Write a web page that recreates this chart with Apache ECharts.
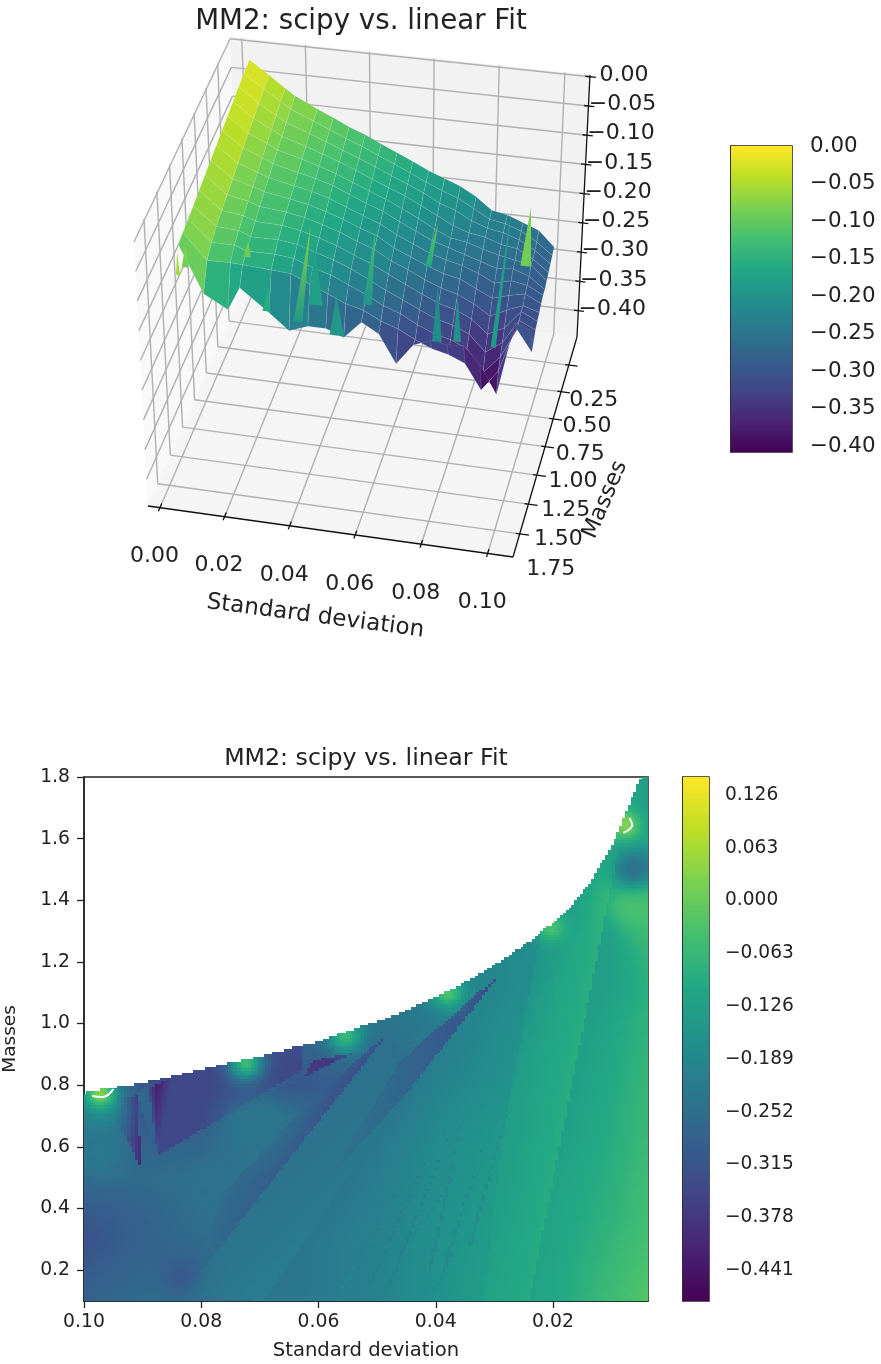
<!DOCTYPE html>
<html><head><meta charset="utf-8"><style>html,body{margin:0;background:#fff}#c{width:881px;height:1364px}</style>
<script src="https://cdn.jsdelivr.net/npm/echarts@6/dist/echarts.min.js"></script></head><body><div id="c"></div>
<script>
const titleText = 'MM2: scipy vs. linear Fit', xName = 'Standard deviation', yName = 'Masses';
// ---- 3D surface readings ----
const surfSd = [.004,.01,.015,.018,.025,.03,.035,.04,.045,.05,.055,.06,.065,.07,.075,.08,.085,.09,.095,.10];
const surfEdgeMass = [1.62,1.56,1.42,1.37,1.25,1.18,1.12,1.08,1.04,1.0,.97,.94,.91,.89,.87,.85,.83,.80,.79,.775];
const surfFrac = [0,.08,.16,.24,.32,.40,.48,.56,.64,.72,.80,.87,.94,1];
const surfZ = [
[-.012,-.035,-.055,-.066,-.085,-.097,-.110,-.120,-.133,-.145,-.157,-.170,-.180,-.190,-.205,-.225,-.230,-.240,-.250,-.275],
[-.015,-.04,-.06,-.072,-.09,-.103,-.116,-.127,-.14,-.152,-.165,-.178,-.19,-.20,-.215,-.23,-.235,-.245,-.26,-.28],
[-.018,-.045,-.066,-.078,-.096,-.109,-.122,-.134,-.147,-.16,-.172,-.185,-.20,-.21,-.225,-.235,-.24,-.25,-.265,-.285],
[-.022,-.05,-.072,-.084,-.102,-.115,-.128,-.141,-.155,-.168,-.18,-.195,-.21,-.225,-.235,-.24,-.25,-.255,-.27,-.29],
[-.026,-.055,-.078,-.09,-.108,-.121,-.134,-.148,-.162,-.175,-.19,-.205,-.222,-.235,-.24,-.25,-.258,-.265,-.27,-.295],
[-.03,-.06,-.084,-.096,-.115,-.127,-.14,-.155,-.17,-.183,-.2,-.215,-.23,-.24,-.25,-.26,-.27,-.27,-.28,-.30],
[-.034,-.066,-.09,-.102,-.122,-.134,-.148,-.163,-.178,-.192,-.21,-.225,-.24,-.25,-.258,-.27,-.285,-.28,-.285,-.30],
[-.038,-.072,-.096,-.108,-.128,-.141,-.156,-.17,-.186,-.20,-.22,-.235,-.25,-.262,-.27,-.285,-.30,-.295,-.29,-.305],
[-.042,-.078,-.102,-.115,-.134,-.148,-.164,-.178,-.195,-.21,-.23,-.245,-.262,-.275,-.285,-.30,-.32,-.31,-.30,-.31],
[-.046,-.084,-.108,-.122,-.14,-.155,-.172,-.187,-.205,-.222,-.24,-.258,-.275,-.29,-.30,-.315,-.34,-.33,-.30,-.315],
[-.05,-.09,-.114,-.13,-.148,-.163,-.182,-.197,-.215,-.235,-.255,-.272,-.29,-.305,-.315,-.33,-.36,-.345,-.305,-.32],
[-.053,-.098,-.122,-.138,-.158,-.173,-.195,-.21,-.23,-.25,-.27,-.285,-.305,-.32,-.33,-.345,-.385,-.36,-.31,-.33],
[-.056,-.11,-.135,-.145,-.17,-.185,-.21,-.23,-.25,-.265,-.285,-.30,-.32,-.335,-.345,-.36,-.405,-.375,-.30,-.34],
[-.06,-.15,-.20,-.17,-.23,-.27,-.27,-.278,-.297,-.275,-.297,-.35,-.32,-.313,-.32,-.322,-.355,-.407,-.284,-.297]];
// sharp facets that stick up along the front edge
const spikeSd     = [.0045,.0065,.02,.025,.036,.037,.043,.054,.072,.072,.078,.093,.0985];
const spikeBaseSd = [.0045,.0060,.0195,.024,.0315,.037,.043,.0515,.069,.072,.078,.0885,.0975];
const spikeMass   = [1.68,1.64,1.30,1.24,1.09,1.08,1.05,.97,.88,.88,.86,.79,.77];
const spikeBaseZ  = [-.10,-.093,-.13,-.23,-.27,-.24,-.293,-.25,-.19,-.315,-.315,-.33,-.19];
const spikeTopZ   = [-.06,-.054,-.103,-.19,-.105,-.14,-.225,-.125,-.113,-.22,-.237,-.09,-.09];
const spikeHalf   = [.0006,.001,.0012,.0012,.0014,.0022,.0022,.0014,.001,.0015,.0012,.0008,.0016];
const spikeShadeBase = [-.06,-.09,-.10,-.16,-.19,-.18,-.19,-.20,-.17,-.21,-.2,-.19,-.09];
const spikeShadeTop  = [-.05,-.07,-.08,-.15,-.07,-.18,-.19,-.12,-.10,-.21,-.2,-.17,-.08];
const xTicks3d = [0,.02,.04,.06,.08,.10];
const massTicks3d = [.25,.5,.75,1,1.25,1.5,1.75];
const zTicks3d = [0,-.05,-.10,-.15,-.20,-.25,-.30,-.35,-.40];
const cbTopTicks = [0,-.05,-.10,-.15,-.20,-.25,-.30,-.35,-.40];
const cbTopRange = [-.408,0];
// ---- 2D map readings ----
const gridSd = [.10,.09,.08,.07,.06,.05,.04,.03,.02,.01,.0038];
const gridMass = [.1,.2,.3,.4,.5,.6,.7,.8,.9,1,1.1,1.2,1.3,1.4,1.5,1.6,1.7,1.8];
const gridVal = [
[-.28,-.26,-.24,-.23,-.225,-.20,-.165,-.125,-.11,-.05,-.02],
[-.30,-.27,-.265,-.24,-.225,-.20,-.165,-.13,-.11,-.06,-.03],
[-.32,-.28,-.26,-.245,-.225,-.205,-.165,-.135,-.115,-.07,-.04],
[-.30,-.28,-.25,-.24,-.235,-.21,-.17,-.14,-.115,-.08,-.045],
[-.27,-.26,-.245,-.24,-.25,-.215,-.175,-.145,-.12,-.085,-.05],
[-.25,-.28,-.27,-.23,-.25,-.225,-.18,-.15,-.13,-.09,-.055],
[-.27,-.33,-.30,-.22,-.27,-.24,-.19,-.155,-.135,-.095,-.06],
[-.27,-.34,-.33,-.32,-.30,-.26,-.20,-.17,-.14,-.10,-.065],
[-.27,-.34,-.33,-.30,-.28,-.27,-.215,-.175,-.145,-.105,-.07],
[-.27,-.34,-.33,-.30,-.25,-.24,-.22,-.18,-.15,-.11,-.075],
[-.27,-.34,-.33,-.30,-.25,-.24,-.20,-.19,-.16,-.12,-.085],
[-.27,-.34,-.33,-.30,-.25,-.24,-.20,-.19,-.165,-.125,-.075],
[-.27,-.34,-.33,-.30,-.25,-.24,-.20,-.19,-.18,-.13,-.05],
[-.27,-.34,-.33,-.30,-.25,-.24,-.20,-.19,-.15,-.11,-.04],
[-.27,-.34,-.33,-.30,-.25,-.24,-.20,-.19,-.12,-.12,-.20],
[-.27,-.34,-.33,-.30,-.25,-.24,-.20,-.19,-.10,-.09,-.11],
[-.27,-.34,-.33,-.30,-.25,-.24,-.20,-.19,-.09,-.09,-.125],
[-.27,-.34,-.33,-.30,-.25,-.24,-.20,-.19,-.10,-.10,-.13]];
const edgeSd   = [.1000,.0904,.0850,.0700,.0602,.0500,.0444,.0358,.0278,.0242,.0176,.0137,.0097,.0068,.0049,.0038];
const edgeMass = [.775,.804,.827,.892,.940,1.005,1.044,1.122,1.213,1.262,1.362,1.453,1.580,1.716,1.797,1.80];
// mesh facets with hard edges, each row three vertices
const triSd = [
[.0831,.0481,.0461],[.0831,.0461,.0695],[.0481,.07,.0631],[.07,.0831,.0759],[.0759,.0631,.07],
[.029,.0461,.0461],[.0461,.0461,.058],
[.0242,.0089,.0282],[.0089,.0282,.0222],[.0242,.0282,.032],
[.0875,.0631,.085],[.085,.0631,.0631],[.0626,.0543,.0609],
[.0904,.0875,.0626],[.0875,.0626,.0631],
[.0896,.0879,.0875],[.0879,.085,.0875],[.0911,.0891,.0875],[.091,.0903,.0939],[.091,.0939,.0973],
[.0563,.0559,.037],[.0495,.0489,.0358],[.041,.0404,.0358],[.0415,.0409,.0341],[.0346,.034,.0268],[.0392,.0386,.0319],
[.0558,.0552,.0461],[.052,.0514,.041],[.0486,.048,.0375]];
const triMass = [
[.125,.973,.752],[.125,.752,.1],[.973,.444,.719],[.444,.125,.46],[.46,.719,.444],
[1.164,.882,.752],[.882,.752,.508],
[.1,1.573,.687],[1.573,.687,1.304],[.1,.687,.1],
[.573,.849,.827],[.827,.849,.931],[.827,.905,.882],
[.534,.573,.827],[.573,.835,.849],
[.801,.801,.573],[.801,.827,.573],[.768,.804,.573],[.768,.531,.671],[.768,.671,.752],
[.145,.145,.697],[.168,.168,.534],[.125,.125,.297],[.19,.19,.817],[.275,.275,.784],[.19,.19,.622],
[.14,.14,.49],[.14,.14,.59],[.14,.14,.655]];
const triVal = [
[-.235,-.25,-.23],[-.235,-.23,-.215],[-.34,-.29,-.27],[-.29,-.25,-.26],[-.26,-.27,-.29],
[-.34,-.27,-.27],[-.27,-.27,-.24],
[-.095,-.085,-.135],[-.085,-.135,-.165],[-.095,-.135,-.12],
[-.345,-.345,-.345],[-.345,-.345,-.33],[-.35,-.42,-.38],
[-.27,-.28,-.30],[-.28,-.30,-.30],
[-.30,-.44,-.33],[-.44,-.345,-.345],[-.29,-.29,-.29],[-.44,-.42,-.33],[-.44,-.33,-.27],
[-.19,-.19,-.19],[-.19,-.19,-.19],[-.175,-.175,-.175],[-.19,-.19,-.19],[-.175,-.175,-.175],[-.18,-.18,-.18],
[-.215,-.215,-.215],[-.21,-.21,-.21],[-.205,-.205,-.205]];
// soft spots
const spotSd   = [.0973,.0973,.0976,.0725,.0717,.0555,.0381,.0205,.0077,.0065,.0065,.0836];
const spotMass = [.735,.775,.58,.872,.677,.963,1.103,1.314,1.645,1.385,1.505,.184];
const spotVal  = [-.17,.03,-.225,-.05,-.235,-.06,-.03,-.035,.03,-.035,-.245,-.30];
const spotSize = [.075,.032,.06,.04,.07,.04,.035,.035,.03,.06,.042,.05];
const arcLeft  = [[.0986,.765],[.0969,.762],[.095,.788]];
const arcRight = [[.007,1.667],[.0065,1.645],[.008,1.619]];
const xTicks2d = [.10,.08,.06,.04,.02];
const yTicks2d = [.2,.4,.6,.8,1,1.2,1.4,1.6,1.8];
const cbBottomTicks = [.126,.063,0,-.063,-.126,-.189,-.252,-.315,-.378,-.441];
const cbBottomRange = [-.478,.1475];

const FONT = '"DejaVu Sans"', INK = '#222';
const viridis = ['#440154','#482475','#414487','#355f8d','#2a788e','#21918c','#22a884','#44bf70','#7ad151','#bddf26','#fde725'].map(h=>[1,3,5].map(i=>parseInt(h.substr(i,2),16)));
function cmap(t){t=Math.max(0,Math.min(1,t))*10;const i=Math.min(9,Math.floor(t)),f=t-i,a=viridis[i],b=viridis[i+1];
  return 'rgb('+[0,1,2].map(k=>Math.round(a[k]+(b[k]-a[k])*f)).join(',')+')';}
const topColor = z => cmap((z-cbTopRange[0])/(cbTopRange[1]-cbTopRange[0]));
const botColor = v => cmap((v-cbBottomRange[0])/(cbBottomRange[1]-cbBottomRange[0]));
const minus = s => s.replace('-','\u2212');

// ---- 3D projection ----
const SD_LIM=[-.0037,.1076], M_LIM=[-.02,1.94], Z_LIM=[-.445,.003];
const G3={left:100,top:100,width:100,height:100};
function homography(q){const [x0,y0]=q[0],[x1,y1]=q[1],[x2,y2]=q[2],[x3,y3]=q[3];
  const dx1=x1-x2,dx2=x3-x2,sx=x0-x1+x2-x3,dy1=y1-y2,dy2=y3-y2,sy=y0-y1+y2-y3,det=dx1*dy2-dx2*dy1;
  const g=(sx*dy2-dx2*sy)/det,h=(dx1*sy-sx*dy1)/det,a=x1-x0+g*x1,b=x3-x0+h*x3,d=y1-y0+g*y1,e=y3-y0+h*y3;
  return (u,v)=>{const w=g*u+h*v+1;return [(a*u+b*v+x0)/w,(d*u+e*v+y0)/w];};}
const floorH=homography([[241,294],[577,337],[513,557],[148,506]]);
const topH=homography([[230,37],[590,75],[522,286],[134,240]]);
function P(api,sd,m,z){const c=api.coord([sd,m]);const u=(c[0]-G3.left)/G3.width,v=(c[1]-G3.top)/G3.height;
  const w=(Z_LIM[1]-z)/(Z_LIM[1]-Z_LIM[0]);const a=topH(u,v),b=floorH(u,v);return [a[0]+(b[0]-a[0])*w,a[1]+(b[1]-a[1])*w];}
const [s0,s1]=SD_LIM,[m0,m1]=M_LIM,[z0,z1]=Z_LIM;
const panes=[{c:'#f9f9f9',p:[[s0,m0,z0],[s0,m1,z0],[s0,m1,z1],[s0,m0,z1]]},{c:'#f2f2f2',p:[[s0,m0,z0],[s1,m0,z0],[s1,m0,z1],[s0,m0,z1]]},{c:'#f5f5f5',p:[[s0,m0,z0],[s1,m0,z0],[s1,m1,z0],[s0,m1,z0]]}];
const gridLines=[];
xTicks3d.forEach(s=>{gridLines.push([[s,m0,z0],[s,m1,z0]],[[s,m0,z0],[s,m0,z1]]);});
massTicks3d.forEach(m=>{gridLines.push([[s0,m,z0],[s1,m,z0]],[[s0,m,z0],[s0,m,z1]]);});
zTicks3d.forEach(z=>{gridLines.push([[s0,m0,z],[s1,m0,z]],[[s0,m0,z],[s0,m1,z]]);});
const axisLines=[[[s0,m1,z0],[s1,m1,z0]],[[s1,m0,z0],[s1,m1,z0]],[[s1,m0,z0],[s1,m0,z1]]];
xTicks3d.forEach(s=>axisLines.push([[s,m1-.035,z0],[s,m1+.03,z0]]));
massTicks3d.forEach(m=>axisLines.push([[s1-.0012,m,z0],[s1+.0028,m,z0]]));
zTicks3d.forEach(z=>axisLines.push([[s1-.0014,m0,z],[s1+.0018,m0,z]]));
const labels3d=[];
xTicks3d.forEach(s=>labels3d.push({p:[s,m1,z0],dx:-5.5,dy:49,t:s.toFixed(2),fs:22}));
massTicks3d.forEach((m,i)=>labels3d.push({p:[s1,m,z0],dx:25+6*i/6,dy:35,t:m.toFixed(2),fs:22}));
zTicks3d.forEach(z=>labels3d.push({p:[s1,m0,z],dx:34,dy:-1.5,t:minus(z.toFixed(2)),fs:22}));
labels3d.push({p:[.05,m1,z0],dx:-7,dy:86,t:xName,fs:23,r:-7.5});
labels3d.push({p:[s1,1.0,z0],dx:60,dy:53,t:yName,fs:22.5,r:67});

// surface facets, far rows first
const facets=[];
const massAt=(f,c)=>.1+surfFrac[f]*(surfEdgeMass[c]-.1);
for(let r=0;r<surfFrac.length-1;r++)for(let c=0;c<surfSd.length-1;c++){
  const mean=(surfZ[r][c]+surfZ[r][c+1]+surfZ[r+1][c]+surfZ[r+1][c+1])/4;
  facets.push({v:[[surfSd[c],massAt(r,c),surfZ[r][c]],[surfSd[c+1],massAt(r,c+1),surfZ[r][c+1]],[surfSd[c+1],massAt(r+1,c+1),surfZ[r+1][c+1]],[surfSd[c],massAt(r+1,c),surfZ[r+1][c]]],z:mean});
}

// ---- 2D field cells ----
function interpAsc(xs,ys,x){for(let i=0;i<xs.length-1;i++){const a=xs[i],b=xs[i+1];if((x-a)*(x-b)<=0)return ys[i]+(ys[i+1]-ys[i])*(x-a)/(b-a);}return ys[x>xs[0]?0:ys.length-1];}
function bracket(xs,x){for(let i=0;i<xs.length-1;i++){const a=xs[i],b=xs[i+1];if((x-a)*(x-b)<=0)return [i,(x-a)/(b-a)];}return [xs.length-2,1];}
function baseValue(sd,m){const [c,fc]=bracket(gridSd,sd),[r,fr]=bracket(gridMass,m);
  const a=gridVal[r][c]+(gridVal[r][c+1]-gridVal[r][c])*fc,b=gridVal[r+1][c]+(gridVal[r+1][c+1]-gridVal[r+1][c])*fc;return a+(b-a)*fr;}
const SCALE=19; // one sd unit in mass units on screen
function field(sd,m){let v=baseValue(sd,m);
  for(let t=0;t<triSd.length;t++){const X=triSd[t],Y=triMass[t],V=triVal[t];
    const d=(Y[1]-Y[2])*(X[0]-X[2])+(X[2]-X[1])*(Y[0]-Y[2]);if(!d)continue;
    const a=((Y[1]-Y[2])*(sd-X[2])+(X[2]-X[1])*(m-Y[2]))/d,b=((Y[2]-Y[0])*(sd-X[2])+(X[0]-X[2])*(m-Y[2]))/d,c=1-a-b;
    if(a>=0&&b>=0&&c>=0)v=a*V[0]+b*V[1]+c*V[2];}
  for(let i=0;i<spotSd.length;i++){const dx=(sd-spotSd[i])*SCALE,dy=m-spotMass[i],q=Math.exp(-(dx*dx+dy*dy)/(2*spotSize[i]*spotSize[i]));v+=(spotVal[i]-v)*q;}
  return v;}
const NCELL=200,sdMin=.0038,sdMax=.10,mMin=.1,mMax=1.8,dS=(sdMax-sdMin)/NCELL,dM=(mMax-mMin)/NCELL;
const cells=[];
for(let i=0;i<NCELL;i++)for(let j=0;j<NCELL;j++){const sd=sdMin+(i+.5)*dS,m=mMin+(j+.5)*dM;
  if(m>interpAsc(edgeSd,edgeMass,sd))continue;cells.push([sd,m,field(sd,m)]);}
const stripsOf=(rng,n)=>Array.from({length:n},(_,i)=>[.5,rng[0]+(i+.5)*(rng[1]-rng[0])/n]);

function cbAxes(idx,rng,ticks,dec,fs,tl,m){return {x:{gridIndex:idx,type:'value',min:0,max:1,show:false},
  y:{gridIndex:idx,type:'value',position:'right',min:rng[0],max:rng[1],splitLine:{show:false},
    axisLine:{show:true,lineStyle:{color:INK,width:1.5}},axisTick:{show:true,length:tl,customValues:ticks,lineStyle:{color:INK,width:1.3}},
    axisLabel:{customValues:ticks,margin:m,color:INK,fontSize:fs,fontFamily:FONT,formatter:v=>minus((+v).toFixed(dec))}}};}
function stripSeries(idx,rng,col,n){const step=(rng[1]-rng[0])/n;return {type:'custom',xAxisIndex:idx,yAxisIndex:idx,silent:true,clip:true,z:1,
  data:stripsOf(rng,n),encode:{x:0,y:1},renderItem(p,api){const v=api.value(1),a=api.coord([0,v+step/2]),b=api.coord([1,v-step/2]);
    return {type:'rect',shape:{x:a[0],y:Math.floor(a[1]),width:b[0]-a[0],height:Math.ceil(b[1])-Math.floor(a[1])},style:{fill:col(v)}};}};}
const cbB=cbAxes(1,cbBottomRange,cbBottomTicks,3,18.6,8,16),cbT=cbAxes(2,cbTopRange,cbTopTicks,2,21.4,8,18);
const sh3={xAxisIndex:3,yAxisIndex:3,type:'custom',silent:true,clip:false,encode:{x:0,y:1}};
const anchors=a=>a.map(o=>[(o.p||o[0])[0],(o.p||o[0])[1]]);
const frame={show:true,borderColor:INK,borderWidth:1.5,outerBoundsMode:'none',containLabel:false};

const option={animation:false,backgroundColor:'#fff',
 title:[{text:titleText,left:356,top:3,textAlign:'center',textStyle:{fontFamily:FONT,fontWeight:'normal',fontSize:27.7,color:INK}},
        {text:titleText,left:361,top:742,textAlign:'center',textStyle:{fontFamily:FONT,fontWeight:'normal',fontSize:23.7,color:INK}}],
 grid:[Object.assign({left:84,top:777,width:564,height:524},frame),
       Object.assign({left:683,top:777,width:26,height:524},frame),
       Object.assign({left:731,top:146,width:61,height:306},frame),
       Object.assign({show:false,outerBoundsMode:'none'},G3)],
 xAxis:[{gridIndex:0,type:'value',inverse:true,min:sdMin,max:sdMax,name:xName,nameLocation:'middle',nameGap:40,nameTextStyle:{fontFamily:FONT,fontSize:19.6,color:INK},
         splitLine:{show:false},axisLine:{lineStyle:{color:INK,width:1.5}},axisTick:{length:7,customValues:xTicks2d,lineStyle:{color:INK,width:1.3}},
         axisLabel:{customValues:xTicks2d,color:INK,fontFamily:FONT,fontSize:18.8,margin:12,formatter:v=>(+v).toFixed(2)}},
        cbB.x,cbT.x,{gridIndex:3,type:'value',show:false,min:SD_LIM[0],max:SD_LIM[1]}],
 yAxis:[{gridIndex:0,type:'value',min:mMin,max:mMax,name:yName,nameLocation:'middle',nameGap:64,nameTextStyle:{fontFamily:FONT,fontSize:18.5,color:INK},
         splitLine:{show:false},axisLine:{lineStyle:{color:INK,width:1.5}},axisTick:{length:7,customValues:yTicks2d,lineStyle:{color:INK,width:1.3}},
         axisLabel:{customValues:yTicks2d,color:INK,fontFamily:FONT,fontSize:18.8,margin:14,formatter:v=>(+v).toFixed(1)}},
        cbB.y,cbT.y,{gridIndex:3,type:'value',show:false,inverse:true,min:M_LIM[0],max:M_LIM[1]}],
 series:[
  {type:'custom',name:'map',xAxisIndex:0,yAxisIndex:0,silent:true,clip:true,progressive:0,z:1,data:cells,encode:{x:0,y:1},
   renderItem(p,api){const c=api.coord([api.value(0),api.value(1)]),s=api.size([dS,dM]);
     const x0=Math.floor(c[0]-s[0]/2),x1=Math.ceil(c[0]+s[0]/2),y0=Math.floor(c[1]-s[1]/2),y1=Math.ceil(c[1]+s[1]/2);
     return {type:'rect',shape:{x:x0,y:y0,width:x1-x0,height:y1-y0},style:{fill:botColor(api.value(2))}};}},
  {type:'line',xAxisIndex:0,yAxisIndex:0,data:arcLeft,smooth:true,showSymbol:false,silent:true,z:4,lineStyle:{color:'#fff',width:2}},
  {type:'line',xAxisIndex:0,yAxisIndex:0,data:arcRight,smooth:true,showSymbol:false,silent:true,z:4,lineStyle:{color:'#fff',width:2}},
  stripSeries(1,cbBottomRange,botColor,200),
  stripSeries(2,cbTopRange,topColor,200),
  Object.assign({},sh3,{z:1,data:anchors(panes),renderItem(p,api){const o=panes[p.dataIndex];
     return {type:'polygon',shape:{points:o.p.map(q=>P(api,q[0],q[1],q[2]))},style:{fill:o.c}};}}),
  Object.assign({},sh3,{z:2,data:anchors(gridLines),renderItem(p,api){const l=gridLines[p.dataIndex],a=P(api,...l[0]),b=P(api,...l[1]);
     return {type:'line',shape:{x1:a[0],y1:a[1],x2:b[0],y2:b[1]},style:{stroke:'#b0b0b0',lineWidth:1.4}};}}),
  Object.assign({},sh3,{z:3,data:anchors(axisLines),renderItem(p,api){const l=axisLines[p.dataIndex],a=P(api,...l[0]),b=P(api,...l[1]);
     return {type:'line',shape:{x1:a[0],y1:a[1],x2:b[0],y2:b[1]},style:{stroke:'#111',lineWidth:1.3}};}}),
  Object.assign({},sh3,{z:4,progressive:0,data:anchors(facets.map(f=>({p:f.v[0]}))),renderItem(p,api){const f=facets[p.dataIndex];
     return {type:'polygon',shape:{points:f.v.map(q=>P(api,q[0],q[1],q[2]))},style:{fill:topColor(f.z),stroke:'rgba(255,255,255,0.16)',lineWidth:.6}};}}),
  Object.assign({},sh3,{z:5,data:spikeSd.map((s,i)=>[s,spikeMass[i]]),renderItem(p,api){const i=p.dataIndex,s=spikeBaseSd[i],m=spikeMass[i];
     const a=P(api,s-spikeHalf[i],m,spikeBaseZ[i]),b=P(api,s+spikeHalf[i],m,spikeBaseZ[i]),t=P(api,spikeSd[i],m,spikeTopZ[i]);
     return {type:'polygon',shape:{points:[a,b,t]},style:{fill:new echarts.graphic.LinearGradient(a[0],a[1],t[0],t[1],[{offset:0,color:topColor(spikeShadeBase[i])},{offset:1,color:topColor(spikeShadeTop[i])}],true)}};}}),
  Object.assign({},sh3,{z:6,data:anchors(labels3d),renderItem(p,api){const l=labels3d[p.dataIndex],c=P(api,...l.p);
     return {type:'text',x:c[0]+l.dx,y:c[1]+l.dy,rotation:(l.r||0)*Math.PI/180,style:{text:l.t,fill:INK,fontSize:l.fs,fontFamily:FONT,align:'center',verticalAlign:'middle'}};}})
 ]};
const chart=echarts.init(document.getElementById('c'),null,{renderer:'canvas',width:881,height:1364});
chart.setOption(option);
</script></body></html>
